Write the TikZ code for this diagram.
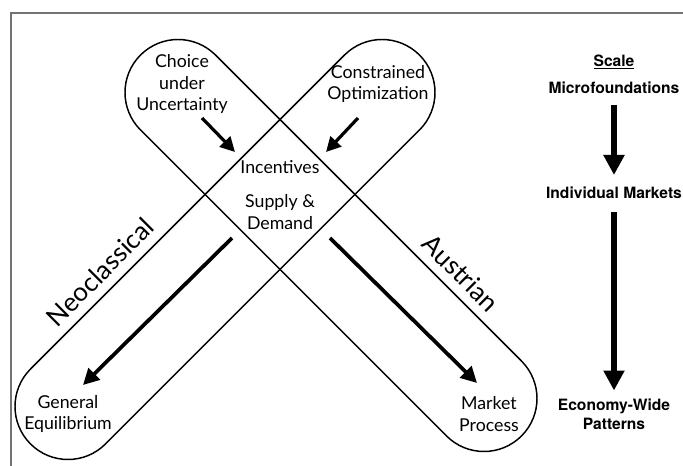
\documentclass[tikz,border=0pt]{standalone}
\usepackage{fontspec}
\setmainfont{Lato}
\newfontfamily\hvfont{TeX Gyre Heros}
\usetikzlibrary{arrows.meta}
\begin{document}
\begin{tikzpicture}[x=0.75pt,y=-0.75pt,
  capsule/.style={draw=black, line width=1.1pt},
  lbl/.style={font=\fontsize{13.3}{16}\selectfont, align=center, inner sep=0pt},
  big/.style={font=\fontsize{19.5}{22}\selectfont, inner sep=0pt},
  scl/.style={font=\hvfont\bfseries\fontsize{11.7}{14}\selectfont, align=center, inner sep=0pt},
  sarrow/.style={line width=2.4pt, -{Triangle[length=11pt,width=11pt]}},
  larrow/.style={line width=2.8pt, -{Triangle[length=12pt,width=12pt]}},
  varrow/.style={line width=3.8pt, -{Triangle[length=15pt,width=15pt]}},
  frame/.style={draw=black!55, line width=1.5pt}]
\useasboundingbox (0,0) rectangle (683,466);
\draw[frame] (11,466) -- (11,13) -- (683,13);
% capsule A (top-left to bottom-right)
\draw[capsule] (215.48,55.02) -- (521.48,361.02)
  arc[start angle=-45, end angle=135, radius=53] -- (140.52,129.98)
  arc[start angle=135, end angle=315, radius=53] -- cycle;
% capsule B (top-right to bottom-left)
\draw[capsule] (344.52,55.02) -- (30.52,369.02)
  arc[start angle=225, end angle=45, radius=53] -- (419.48,129.98)
  arc[start angle=45, end angle=-135, radius=53] -- cycle;
% labels
\node[lbl] (choice) at (182,84) {Choice\\under\\Uncertainty};
\node[lbl] (constr) at (378,84) {Constrained\\Optimization};
\node[lbl] (incent) at (280,167) {Incentives};
\node[lbl] (supply) at (280,212) {Supply \&\\Demand};
\node[lbl] (geneq) at (68,414) {General\\Equilibrium};
\node[lbl] (mproc) at (489,414) {Market\\Process};
\node[big, rotate=45] (neo) at (100,272) {Neoclassical};
\node[big, rotate=-45] (aus) at (461,273) {Austrian};
% scale column
\node[scl] (scale) at (614,62) {\underline{Scale}};
\node[scl] (micro) at (614,88) {Microfoundations};
\node[scl] (indiv) at (614,193) {Individual Markets};
\node[scl] (econ) at (614,414) {Economy-Wide\\Patterns};
% arrow ends
\coordinate (s1a) at (202,118); \coordinate (s1b) at (235,152);
\coordinate (s2a) at (358,118); \coordinate (s2b) at (326,152);
\coordinate (l1a) at (232,238); \coordinate (l1b) at (83,385);
\coordinate (l2a) at (330,238); \coordinate (l2b) at (477,383);
\draw[sarrow] (s1a) -- (s1b);
\draw[sarrow] (s2a) -- (s2b);
\draw[larrow] (l1a) -- (l1b);
\draw[larrow] (l2a) -- (l2b);
\draw[varrow, shorten <=12.75pt, shorten >=13.5pt] (micro.center) -- (indiv.center);
\draw[varrow, shorten <=14.25pt, shorten >=6pt] (indiv.center) -- (econ.north);
\end{tikzpicture}
\end{document}
